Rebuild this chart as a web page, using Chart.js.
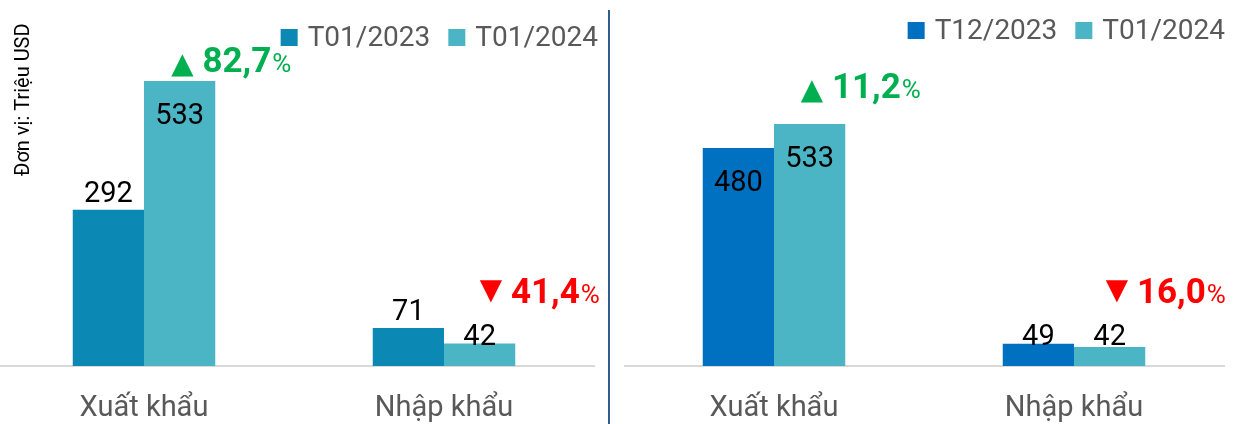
<!DOCTYPE html>
<html><head><meta charset="utf-8">
<script src="https://cdn.jsdelivr.net/npm/chart.js@4.4.1/dist/chart.umd.min.js"></script>
<style>
html,body{margin:0;padding:0;background:#fff;}
#wrap{position:relative;width:1234px;height:424px;overflow:hidden;background:#fff;}
#c1{position:absolute;left:-6px;top:0;}
#c2{position:absolute;left:624px;top:0;}
#sep{position:absolute;left:608px;top:10px;width:2px;height:414px;background:#2E5E8E;}
</style></head><body>
<div id="wrap">
<canvas id="c1" width="610" height="424"></canvas>
<canvas id="c2" width="610" height="424"></canvas>
<div id="sep"></div>
</div>
<script>
const categories = ['Xuất khẩu', 'Nhập khẩu'];
const leftSeriesNames = ['T01/2023', 'T01/2024'];
const leftT012023 = [292, 71];
const leftT012024 = [533, 42];
const leftChange = ['82,7', '41,4'];
const leftDirection = ['up', 'down'];
const rightSeriesNames = ['T12/2023', 'T01/2024'];
const rightT122023 = [480, 49];
const rightT012024 = [533, 42];
const rightChange = ['11,2', '16,0'];
const rightDirection = ['up', 'down'];
const unitLabel = 'Đơn vị: Triệu USD';

const decor = {
  id: 'panelDecor',
  afterDatasetsDraw(chart, args, o) {
    const ctx = chart.ctx;
    ctx.save();
    // data labels
    const lblSize = 29, capH = 0.711 * lblSize;
    chart.data.datasets.forEach((ds, di) => {
      const meta = chart.getDatasetMeta(di);
      meta.data.forEach((bar, j) => {
        const v = ds.data[j];
        const h = bar.base - bar.y;
        let cy;
        if (o.inside[di][j]) cy = bar.y + o.inOff;
        else if (h < 25) cy = bar.base - o.lowOff;
        else cy = bar.y - o.outOff;
        ctx.font = lblSize + 'px Roboto';
        ctx.fillStyle = '#000000';
        ctx.textAlign = 'center';
        ctx.textBaseline = 'alphabetic';
        ctx.fillText(String(v), bar.x, cy + capH / 2);
      });
    });
    // change annotations
    const meta2 = chart.getDatasetMeta(1);
    o.change.forEach((txt, j) => {
      const bar = meta2.data[j];
      const n = o.notes[j];
      const up = o.dir[j] === 'up';
      const col = up ? '#00B050' : '#FF0000';
      let x = bar.x + n.dx;
      const base = bar.y + n.dy;
      ctx.textAlign = 'left';
      ctx.textBaseline = 'alphabetic';
      ctx.fillStyle = col;
      ctx.font = '29px "DejaVu Sans"';
      const tri = up ? '▲' : '▼';
      ctx.fillText(tri, x, base + (up ? 1 : -4));
      x += ctx.measureText(tri).width + 9;
      ctx.font = 'bold 35px Roboto';
      ctx.fillText(txt, x, base);
      x += ctx.measureText(txt).width + 1;
      ctx.font = '26px Roboto';
      ctx.fillText('%', x, base);
    });
    // legend
    ctx.font = '28px Roboto';
    const items = chart.data.datasets.map(ds => ({ c: ds.backgroundColor, t: ds.label, w: ctx.measureText(ds.label).width }));
    let total = 0;
    items.forEach((it, i) => { total += 17 + 10 + it.w + (i ? 18 : 0); });
    let lx = o.legendEnd - total;
    items.forEach((it, i) => {
      if (i) lx += 18;
      ctx.fillStyle = it.c;
      ctx.fillRect(lx, o.legendBaseline - 17, 17, 17);
      lx += 27;
      ctx.fillStyle = '#595959';
      ctx.textAlign = 'left';
      ctx.fillText(it.t, lx, o.legendBaseline);
      lx += it.w;
    });
    // unit title
    if (o.title) {
      ctx.save();
      ctx.translate(o.titleX, o.titleY);
      ctx.rotate(-Math.PI / 2);
      ctx.font = '20px Roboto';
      ctx.fillStyle = '#000000';
      ctx.textAlign = 'left';
      ctx.textBaseline = 'alphabetic';
      ctx.fillText(o.title, 0, 0);
      ctx.restore();
    }
    ctx.restore();
  }
};

function makeChart(id, names, s1, s2, colors, cfg) {
  return new Chart(document.getElementById(id), {
    type: 'bar',
    data: {
      labels: categories,
      datasets: [
        { label: names[0], data: s1, backgroundColor: colors[0] },
        { label: names[1], data: s2, backgroundColor: colors[1] }
      ]
    },
    options: {
      responsive: false,
      animation: false,
      devicePixelRatio: 1,
      layout: { padding: { top: 20, left: 0, right: 10, bottom: 0 } },
      datasets: { bar: { barPercentage: 1, categoryPercentage: 0.475 } },
      plugins: { legend: { display: false }, tooltip: { enabled: false }, panelDecor: cfg },
      scales: {
        x: {
          grid: { display: false, drawTicks: false },
          border: { display: true, color: '#D9D9D9', width: 2 },
          ticks: { color: '#595959', font: { family: 'Roboto', size: 29 }, padding: 25 },
          afterFit: (scale) => { scale.height = 58; }
        },
        y: { display: false, min: 0, max: cfg.yMax }
      }
    },
    plugins: [decor]
  });
}

makeChart('c1', leftSeriesNames, leftT012023, leftT012024, ['#0B88B3', '#4BB5C6'], {
  yMax: 647,
  inside: [[false, false], [true, false]],
  inOff: 33, outOff: 18.5, lowOff: 31,
  change: leftChange, dir: leftDirection,
  notes: [{ dx: -8.5, dy: -9 }, { dx: 0, dy: -41 }],
  legendEnd: 604, legendBaseline: 46,
  title: unitLabel, titleX: 35, titleY: 176
});
makeChart('c2', rightSeriesNames, rightT122023, rightT012024, ['#0070C0', '#4BB5C6'], {
  yMax: 762,
  inside: [[true, false], [true, false]],
  inOff: 33, outOff: 18.5, lowOff: 31,
  change: rightChange, dir: rightDirection,
  notes: [{ dx: -9, dy: -26 }, { dx: -4, dy: -44 }],
  legendEnd: 601, legendBaseline: 39,
  title: null
});
</script>
</body></html>
